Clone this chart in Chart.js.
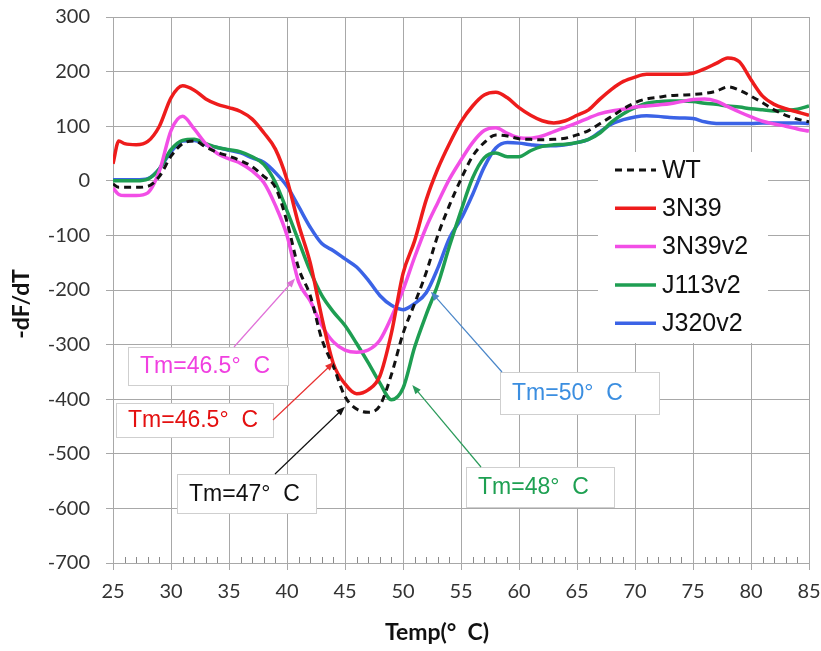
<!DOCTYPE html>
<html>
<head>
<meta charset="utf-8">
<script src="https://cdn.jsdelivr.net/npm/chart.js@4.4.1/dist/chart.umd.min.js"></script>
<style>
  body { margin: 0; background: #fff; }
  #wrap { width: 821px; height: 651px; }
</style>
</head>
<body>
<div id="wrap"><canvas id="chart" width="821" height="651"></canvas></div>
<script>
// temperature points (deg C)
const temps = [25, 25.5, 26, 27, 28, 29, 30, 31, 32, 33, 34, 35,
  36, 37, 38, 39, 40, 41, 42, 43, 44, 45,
  46, 47, 48, 49, 50, 51, 52, 53, 54, 55,
  56, 57, 58, 59, 60, 61, 62, 63, 64, 65,
  66, 67, 68, 69, 70, 71, 72, 73, 74, 75,
  76, 77, 78, 79, 80, 81, 82, 83, 84, 85];

const seriesNames = ['WT', '3N39', '3N39v2', 'J113v2', 'J320v2'];

const wt = [-6, -12,
  -12, -12, -10, 8, 45, 68, 73, 62, 52, 45,
  37, 26, 8, -12, -75, -160, -210, -290, -340, -395,
  -418, -424, -412, -355, -280, -225, -168, -100, -45, 3,
  45, 70, 84, 82, 77, 76, 75, 76, 78, 84,
  92, 105, 118, 132, 143, 150, 153, 156, 157, 158,
  160, 164, 172, 166, 155, 143, 130, 120, 113, 108];

const s3n39 = [31, 73,
  68, 66, 72, 100, 152, 174, 166, 150, 140, 134,
  127, 113, 88, 58, 2, -80, -150, -250, -335, -372,
  -390, -383, -358, -279, -170, -110, -35, 22, 68, 108,
  137, 157, 162, 152, 134, 120, 110, 106, 110, 120,
  130, 150, 168, 182, 190, 195, 195, 195, 195, 197,
  205, 215, 225, 218, 185, 155, 140, 132, 126, 120];

const s3n39v2 = [-13, -25,
  -27, -27, -22, 18, 92, 118, 95, 68, 50, 40,
  32, 18, -3, -45, -100, -185, -220, -265, -295, -310,
  -314, -310, -292, -250, -200, -140, -85, -40, 3, 38,
  70, 92, 97, 87, 79, 78, 82, 90, 98, 106,
  115, 123, 128, 131, 135, 137, 139, 141, 145, 149,
  150, 146, 136, 126, 117, 109, 104, 100, 95, 91];

const j113v2 = [0, 0,
  0, 0, 3, 22, 57, 74, 76, 68, 61, 57,
  53, 44, 30, -3, -55, -110, -165, -210, -240, -265,
  -298, -333, -370, -401, -380, -305, -245, -190, -120, -55,
  5, 42, 51, 44, 44, 55, 63, 66, 67, 70,
  76, 88, 108, 123, 134, 142, 145, 146, 146, 145,
  142, 140, 137, 135, 132, 130, 128, 129, 131, 137];

const j320v2 = [2, 2,
  2, 2, 4, 22, 53, 73, 74, 66, 61, 56,
  51, 42, 34, 15, -10, -47, -85, -115, -128, -143,
  -158, -182, -210, -228, -236, -225, -205, -160, -105, -70,
  -25, 25, 60, 70, 69, 66, 64, 64, 66, 70,
  76, 90, 104, 112, 117, 119, 118, 116, 115, 114,
  108, 105, 105, 105, 105, 106, 106, 106, 106, 105];

const xTicks = [25, 30, 35, 40, 45, 50, 55, 60, 65, 70, 75, 80, 85];
const yTicks = [300, 200, 100, 0, -100, -200, -300, -400, -500, -600, -700];

const tmLabels = ['Tm=46.5°  C', 'Tm=46.5°  C', 'Tm=47°  C', 'Tm=50°  C', 'Tm=48°  C'];
// arrow tips in data units (temp, -dF/dT)
const tmTips = [[40.7, -179], [44.05, -332], [45.0, -414], [52.4, -203], [50.8, -374]];

const colors = ['#111111', '#ee1c1c', '#f24ee6', '#1e9e52', '#3b63e6'];
const values = [wt, s3n39, s3n39v2, j113v2, j320v2];

const datasets = seriesNames.map((name, i) => ({
  label: name,
  data: temps.map((t, k) => ({ x: t, y: values[i][k] })),
  borderColor: colors[i],
  borderWidth: i === 0 ? 3 : 3.5,
  borderDash: i === 0 ? [7, 5] : [],
  pointRadius: 0,
  fill: false,
  cubicInterpolationMode: 'monotone'
}));

// label boxes, layout only
const notes = [
  { text: tmLabels[0], tip: tmTips[0], color: '#f040e0', line: '#e070d8', tail: [234, 347], box: [128, 347, 160, 38] },
  { text: tmLabels[1], tip: tmTips[1], color: '#e41010', line: '#e83030', tail: [273, 420], box: [116, 403, 157, 34] },
  { text: tmLabels[2], tip: tmTips[2], color: '#111111', line: '#111111', tail: [275, 474], box: [177, 474, 139, 39] },
  { text: tmLabels[3], tip: tmTips[3], color: '#3b8ee0', line: '#4a86c8', tail: [502, 372], box: [500, 372, 159, 42] },
  { text: tmLabels[4], tip: tmTips[4], color: '#1ea052', line: '#2a9a5a', tail: [481, 467], box: [466, 467, 148, 40] }
];

function arrow(ctx, x1, y1, x2, y2, color) {
  const a = Math.atan2(y2 - y1, x2 - x1);
  ctx.save();
  ctx.strokeStyle = color;
  ctx.fillStyle = color;
  ctx.lineWidth = 1.2;
  ctx.beginPath();
  ctx.moveTo(x1, y1);
  ctx.lineTo(x2 - 6 * Math.cos(a), y2 - 6 * Math.sin(a));
  ctx.stroke();
  ctx.beginPath();
  ctx.moveTo(x2, y2);
  ctx.lineTo(x2 - 9 * Math.cos(a) + 3.5 * Math.sin(a), y2 - 9 * Math.sin(a) - 3.5 * Math.cos(a));
  ctx.lineTo(x2 - 9 * Math.cos(a) - 3.5 * Math.sin(a), y2 - 9 * Math.sin(a) + 3.5 * Math.cos(a));
  ctx.closePath();
  ctx.fill();
  ctx.restore();
}

const overlay = {
  id: 'overlay',
  beforeDatasetsDraw(chart) {
    const ctx = chart.ctx;
    const xs = chart.scales.x;
    const bottom = chart.chartArea.bottom;
    // minor ticks on the x axis
    ctx.save();
    ctx.strokeStyle = '#8a8a8a';
    ctx.lineWidth = 1;
    for (let v = 26; v < 85; v++) {
      if (v % 5 === 0) continue;
      const x = Math.round(xs.getPixelForValue(v)) + 0.5;
      ctx.beginPath();
      ctx.moveTo(x, bottom);
      ctx.lineTo(x, bottom - 6);
      ctx.stroke();
    }
    ctx.restore();
  },
  afterDatasetsDraw(chart) {
    const ctx = chart.ctx;
    const xs = chart.scales.x;
    const ys = chart.scales.y;

    // legend
    ctx.save();
    ctx.fillStyle = '#fff';
    ctx.fillRect(598, 152, 170, 191);
    ctx.font = '25px "Liberation Sans", Arial, sans-serif';
    ctx.textBaseline = 'middle';
    chart.data.datasets.forEach((ds, i) => {
      const y = 170 + i * 38.3;
      ctx.strokeStyle = ds.borderColor;
      ctx.lineWidth = ds.borderWidth;
      ctx.setLineDash(ds.borderDash);
      ctx.beginPath();
      ctx.moveTo(615, y);
      ctx.lineTo(656, y);
      ctx.stroke();
      ctx.setLineDash([]);
      ctx.fillStyle = '#111';
      ctx.fillText(ds.label, 662, y + 1);
    });
    ctx.restore();

    // Tm notes
    notes.forEach(n => {
      const [bx, by, bw, bh] = n.box;
      ctx.save();
      ctx.fillStyle = '#fff';
      ctx.fillRect(bx, by, bw, bh);
      ctx.strokeStyle = '#cfcfcf';
      ctx.lineWidth = 1;
      ctx.strokeRect(bx + 0.5, by + 0.5, bw, bh);
      ctx.font = '23px "Liberation Sans", Arial, sans-serif';
      ctx.textBaseline = 'middle';
      ctx.fillStyle = n.color;
      ctx.fillText(n.text, bx + 12, by + bh / 2 + 1);
      ctx.restore();
      arrow(ctx, n.tail[0], n.tail[1], xs.getPixelForValue(n.tip[0]), ys.getPixelForValue(n.tip[1]), n.line);
    });

    // axis titles
    ctx.save();
    ctx.fillStyle = '#111';
    ctx.font = 'bold 23px Lato, "Open Sans", sans-serif';
    ctx.textAlign = 'center';
    ctx.textBaseline = 'middle';
    ctx.fillText('Temp(°  C)', 437, 633);
    ctx.translate(22, 304);
    ctx.rotate(-Math.PI / 2);
    ctx.fillText('-dF/dT', 0, 0);
    ctx.restore();
  }
};

new Chart(document.getElementById('chart'), {
  type: 'line',
  data: { datasets: datasets },
  options: {
    responsive: false,
    animation: false,
    layout: { padding: { top: 17, right: 12, left: 0, bottom: 0 } },
    plugins: { legend: { display: false }, tooltip: { enabled: false } },
    scales: {
      x: {
        type: 'linear',
        min: 25,
        max: 85,
        afterFit(s) { s.height = 88; s.paddingLeft = 0; s.paddingRight = 0; },
        afterBuildTicks(s) { s.ticks = xTicks.map(v => ({ value: v })); },
        ticks: { font: { family: 'Lato', size: 20 }, color: '#333', padding: 10 },
        grid: { color: '#a8a8a8', tickLength: 7 },
        border: { color: '#a8a8a8' }
      },
      y: {
        min: -700,
        max: 300,
        afterFit(s) { s.width = 113; s.paddingTop = 0; s.paddingBottom = 0; },
        afterBuildTicks(s) { s.ticks = yTicks.map(v => ({ value: v })); },
        ticks: { font: { family: 'Lato', size: 20 }, color: '#333', padding: 16 },
        grid: { color: '#a8a8a8', tickLength: 7 },
        border: { color: '#a8a8a8' }
      }
    }
  },
  plugins: [overlay]
});
</script>
</body>
</html>
